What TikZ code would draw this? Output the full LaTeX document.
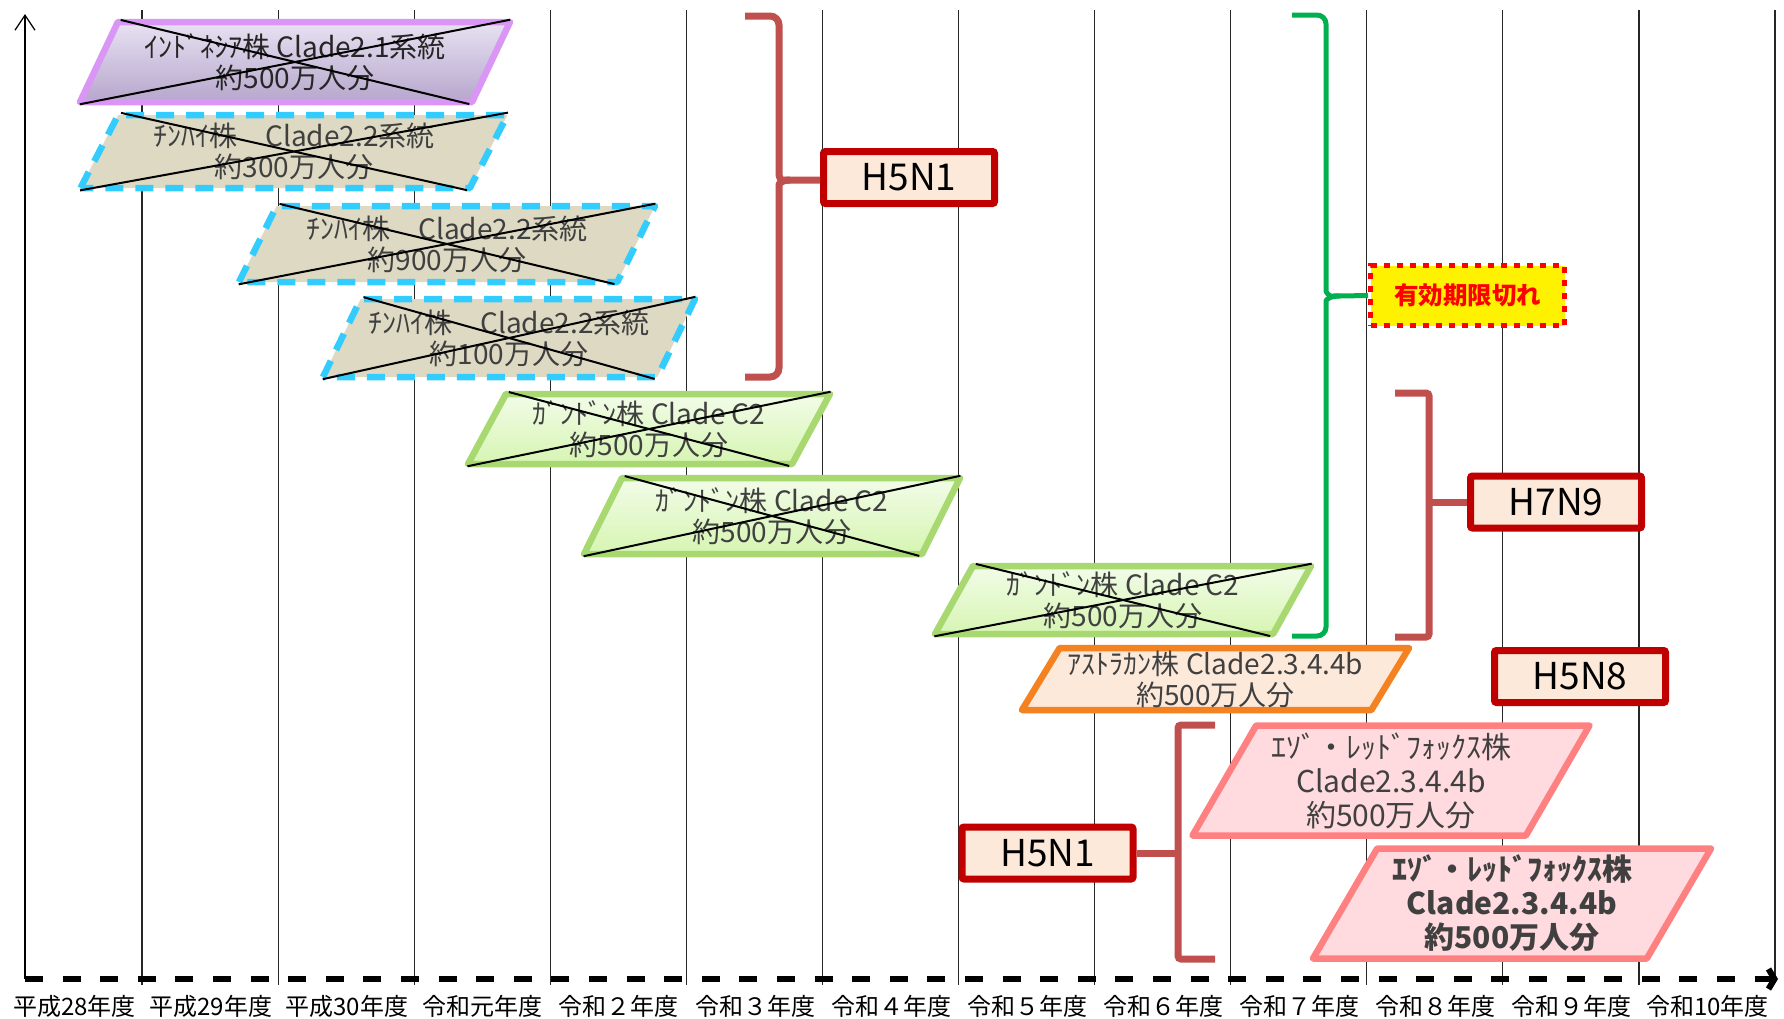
\documentclass[tikz,border=0pt]{standalone}
\usepackage{fontspec}
\setmainfont{Noto Sans CJK JP}
\usepackage{tikz}
\usetikzlibrary{shapes.geometric,arrows.meta}

\definecolor{violetline}{RGB}{218,150,245}
\definecolor{purpletop}{RGB}{232,226,242}
\definecolor{purplebot}{RGB}{182,166,204}
\definecolor{skyline}{RGB}{51,204,255}
\definecolor{beige}{RGB}{221,217,195}
\definecolor{greenline}{RGB}{168,216,112}
\definecolor{greentop}{RGB}{242,252,232}
\definecolor{greenbot}{RGB}{214,245,178}
\definecolor{orangeline}{RGB}{245,130,32}
\definecolor{peach}{RGB}{253,233,217}
\definecolor{pinkline}{RGB}{255,128,128}
\definecolor{pinkfill}{RGB}{255,218,222}
\definecolor{darkred}{RGB}{192,0,0}
\definecolor{bracered}{RGB}{192,80,77}
\definecolor{bracegreen}{RGB}{0,176,80}
\definecolor{textgray}{RGB}{64,64,64}

\begin{document}
\begin{tikzpicture}
  [x=1pt,y=-1pt,
   every node/.style={inner sep=0pt},
   year/.style={font=\fontsize{24}{28}\selectfont},
   gridline/.style={line width=1.2pt,black!85},
   stock/.style={trapezium,trapezium left angle=56.5,trapezium right angle=123.5,
     trapezium stretches body,line width=6.5pt,line join=round,align=center,
     text=textgray,font=\fontsize{28}{31}\selectfont},
   purplebox/.style={stock,draw=violetline,top color=purpletop,bottom color=purplebot,text=black!85},
   bluebox/.style={stock,draw=skyline,fill=beige,dash pattern=on 18pt off 12pt},
   greenbox/.style={stock,draw=greenline,top color=greentop,bottom color=greenbot},
   orangebox/.style={stock,draw=orangeline,fill=peach},
   pinkbox/.style={stock,draw=pinkline,fill=pinkfill,font=\fontsize{30}{34}\selectfont},
   strike/.style={line width=2pt,black,shorten <=5pt,shorten >=5pt},
   subtype/.style={draw=darkred,fill=peach,line width=7pt,rounded corners=2pt,
     minimum width=171pt,minimum height=52pt,font=\fontsize{37}{40}\selectfont},
   expiry/.style={draw=red,fill=yellow,line width=5pt,dash pattern=on 6pt off 7pt,
     minimum width=194pt,minimum height=60pt,text=red,font=\bfseries\fontsize{24.5}{28}\selectfont},
   redbrace/.style={draw=bracered,line width=7pt},
   greenbrace/.style={draw=bracegreen,line width=5pt}]

  \useasboundingbox (0,0) rectangle (1784,1018);

  % year grid
  \draw[gridline] (142,10) -- (142,985);
  \draw[gridline] (278.1,10) -- (278.1,985);
  \draw[gridline] (414.2,10) -- (414.2,985);
  \draw[gridline] (550.2,10) -- (550.2,985);
  \draw[gridline] (686.3,10) -- (686.3,985);
  \draw[gridline] (822.4,10) -- (822.4,985);
  \draw[gridline] (958.5,10) -- (958.5,985);
  \draw[gridline] (1094.6,10) -- (1094.6,985);
  \draw[gridline] (1230.6,10) -- (1230.6,985);
  \draw[gridline] (1366.7,10) -- (1366.7,985);
  \draw[gridline] (1502.8,10) -- (1502.8,985);
  \draw[gridline] (1638.9,10) -- (1638.9,985);
  \draw[gridline] (1775,10) -- (1775,975);

  % axes
  \coordinate (origin) at (25,979);
  \coordinate (top) at (25,14);
  \coordinate (end) at (1778,979);
  \draw[line width=1.3pt,-{Straight Barb[length=15pt,width=20pt]}] (origin) -- (top);
  \draw[line width=6pt,dash pattern=on 18pt off 19.6pt,
        -{Straight Barb[length=6pt,width=20pt]}] (origin) -- (end);

  \node[year] (y28) at (74.6,1006) {平成28年度};
  \node[year] (y29) at (210.7,1006) {平成29年度};
  \node[year] (y30) at (346.8,1006) {平成30年度};
  \node[year] (r1) at (482.8,1006) {令和元年度};
  \node[year] (r2) at (618.9,1006) {令和２年度};
  \node[year] (r3) at (755,1006) {令和３年度};
  \node[year] (r4) at (891.1,1006) {令和４年度};
  \node[year] (r5) at (1027.2,1006) {令和５年度};
  \node[year] (r6) at (1163.2,1006) {令和６年度};
  \node[year] (r7) at (1299.3,1006) {令和７年度};
  \node[year] (r8) at (1435.4,1006) {令和８年度};
  \node[year] (r9) at (1571.5,1006) {令和９年度};
  \node[year] (r10) at (1707.6,1006) {令和10年度};

  % stocks
  \node[purplebox,minimum width=430pt,minimum height=80pt] (ind) at (295,62)
    {ｲﾝﾄﾞﾈｼｱ株 Clade2.1系統\\約500万人分};
  \node[bluebox,minimum width=427pt,minimum height=73pt] (qh1) at (294,151.5)
    {ﾁﾝﾊｲ株　Clade2.2系統\\約300万人分};
  \node[bluebox,minimum width=416pt,minimum height=76pt] (qh2) at (447,244)
    {ﾁﾝﾊｲ株　Clade2.2系統\\約900万人分};
  \node[bluebox,minimum width=372pt,minimum height=78pt] (qh3) at (509,338)
    {ﾁﾝﾊｲ株　Clade2.2系統\\約100万人分};
  \node[greenbox,minimum width=362pt,minimum height=70pt] (gd1) at (649,429)
    {ｶﾞﾝﾄﾞﾝ株 Clade C2\\約500万人分};
  \node[greenbox,minimum width=376pt,minimum height=76pt] (gd2) at (772,516)
    {ｶﾞﾝﾄﾞﾝ株 Clade C2\\約500万人分};
  \node[greenbox,minimum width=376pt,minimum height=68pt] (gd3) at (1123,600)
    {ｶﾞﾝﾄﾞﾝ株 Clade C2\\約500万人分};
  \node[orangebox,minimum width=387pt,minimum height=62pt] (ast) at (1215.5,679)
    {ｱｽﾄﾗｶﾝ株 Clade2.3.4.4b\\約500万人分};
  \node[pinkbox,minimum width=397pt,minimum height=110pt] (ezo1) at (1391,780.5)
    {ｴｿﾞ・ﾚｯﾄﾞﾌｫｯｸｽ株\\Clade2.3.4.4b\\約500万人分};
  \node[pinkbox,minimum width=398pt,minimum height=110pt,font=\bfseries\fontsize{30}{34}\selectfont] (ezo2) at (1512,903.5)
    {ｴｿﾞ・ﾚｯﾄﾞﾌｫｯｸｽ株\\Clade2.3.4.4b\\約500万人分};

  % struck out
  \draw[strike] (ind.top left corner) -- (ind.bottom right corner);
  \draw[strike] (ind.bottom left corner) -- (ind.top right corner);
  \draw[strike] (qh1.top left corner) -- (qh1.bottom right corner);
  \draw[strike] (qh1.bottom left corner) -- (qh1.top right corner);
  \draw[strike] (qh2.top left corner) -- (qh2.bottom right corner);
  \draw[strike] (qh2.bottom left corner) -- (qh2.top right corner);
  \draw[strike] (qh3.top left corner) -- (qh3.bottom right corner);
  \draw[strike] (qh3.bottom left corner) -- (qh3.top right corner);
  \draw[strike] (gd1.top left corner) -- (gd1.bottom right corner);
  \draw[strike] (gd1.bottom left corner) -- (gd1.top right corner);
  \draw[strike] (gd2.top left corner) -- (gd2.bottom right corner);
  \draw[strike] (gd2.bottom left corner) -- (gd2.top right corner);
  \draw[strike] (gd3.top left corner) -- (gd3.bottom right corner);
  \draw[strike] (gd3.bottom left corner) -- (gd3.top right corner);

  % subtypes
  \node[subtype] (h5top) at (909,177.5) {H5N1};
  \node[subtype] (h7n9) at (1556,502) {H7N9};
  \node[subtype] (h5n8) at (1580,676.5) {H5N8};
  \node[subtype] (h5low) at (1047.5,853) {H5N1};
  \node[expiry] (expired) at (1467.5,295.5) {有効期限切れ};

  % brackets
  \coordinate (b1tip) at (790,180);
  \draw[redbrace,rounded corners=9pt] (745,16) -- (779,16) -- (779,166)
    .. controls (779,176) and (781,180) .. (b1tip) -- (b1tip -| h5top.west);
  \draw[redbrace,rounded corners=9pt] (b1tip)
    .. controls (781,180) and (779,184) .. (779,194) -- (779,377) -- (745,377);

  \coordinate (b2mid) at (1429,502);
  \draw[redbrace,rounded corners=3pt] (1395,393) -- (1429,393) -- (1429,637) -- (1395,637);
  \draw[redbrace] (b2mid) -- (h7n9.west);

  \coordinate (b3mid) at (1178,853);
  \draw[redbrace,rounded corners=3pt] (1215,725) -- (1178,725) -- (1178,959) -- (1215,959);
  \draw[redbrace] (h5low.east) -- (b3mid);

  \coordinate (gtip) at (1340,296);
  \draw[greenbrace,rounded corners=9pt] (1292,15) -- (1326,15) -- (1326,282)
    .. controls (1326,292) and (1329,296) .. (gtip) -- (expired.west);
  \draw[greenbrace,rounded corners=9pt] (gtip)
    .. controls (1329,296) and (1326,300) .. (1326,310) -- (1326,636) -- (1292,636);

\end{tikzpicture}
\end{document}
